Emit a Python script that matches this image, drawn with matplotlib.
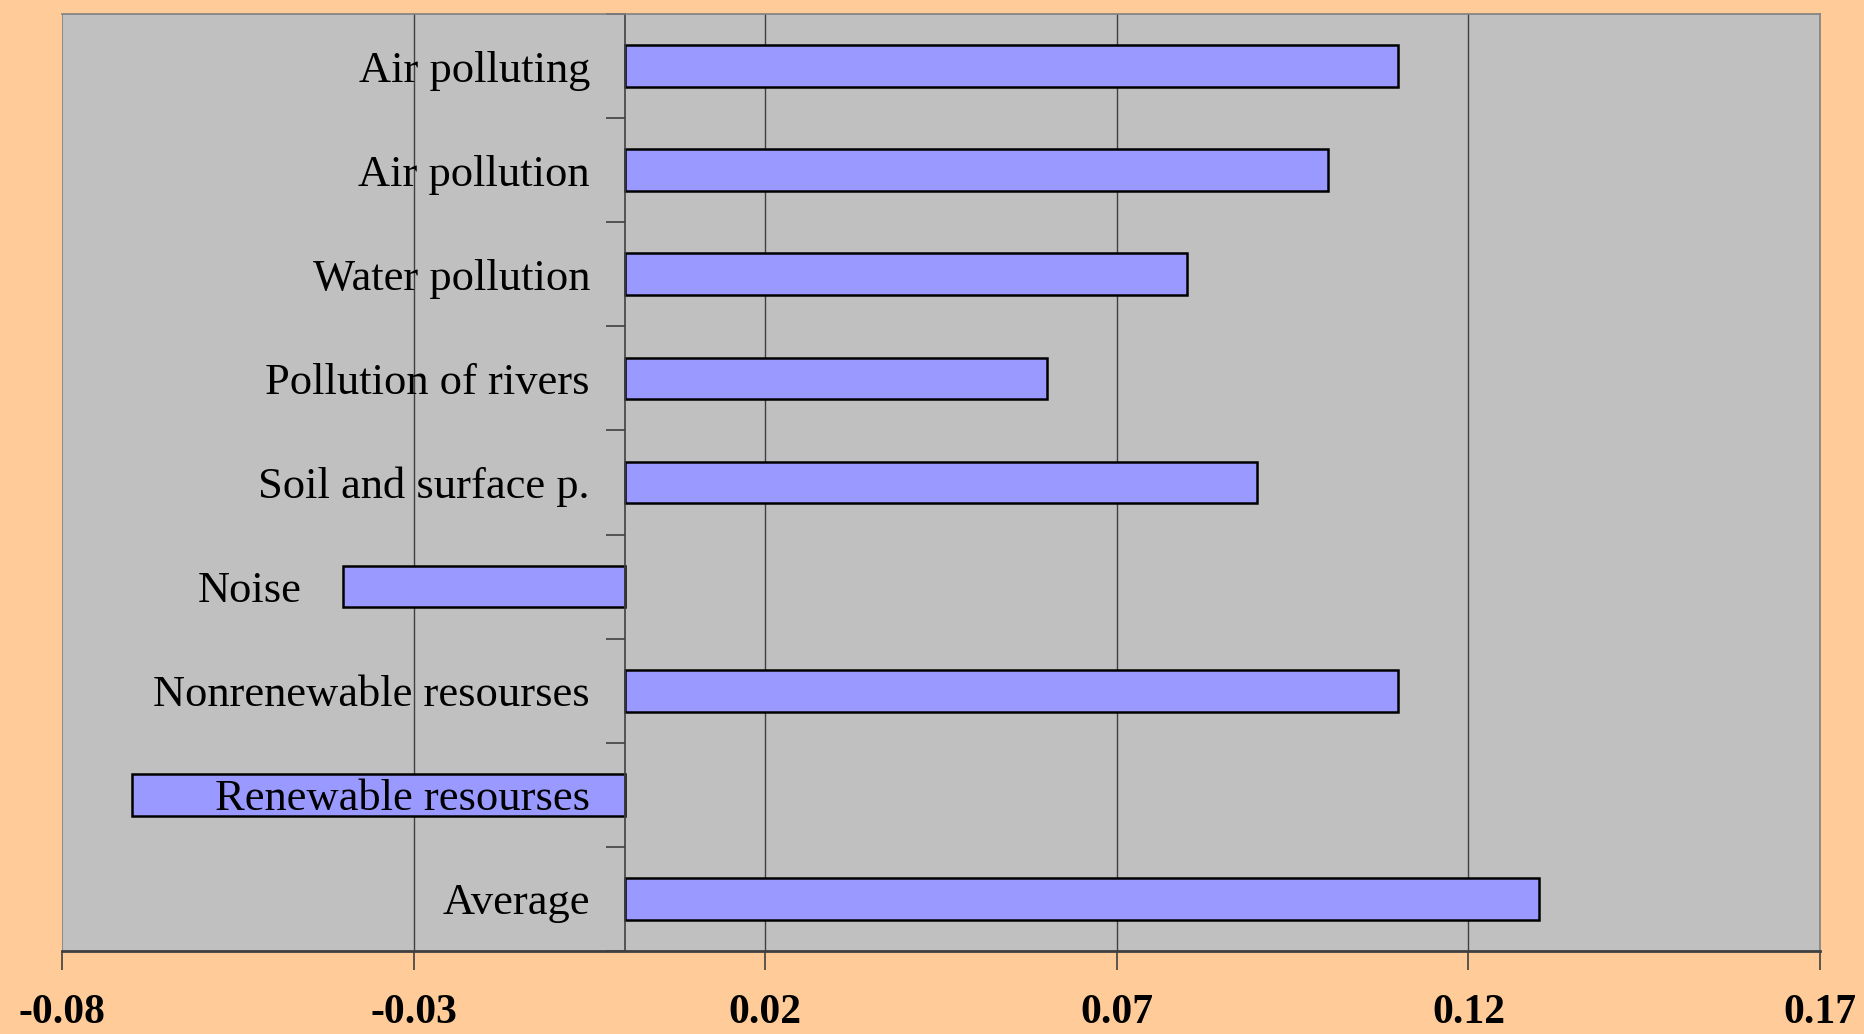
import numpy as np
import matplotlib.pyplot as plt
from matplotlib.ticker import FixedLocator

# data
categories = ['Air polluting', 'Air pollution', 'Water pollution', 'Pollution of rivers',
              'Soil and surface p.', 'Noise', 'Nonrenewable resourses',
              'Renewable resourses', 'Average']
values = [0.11, 0.10, 0.08, 0.06, 0.09, -0.04, 0.11, -0.07, 0.13]
xticks = [-0.08, -0.03, 0.02, 0.07, 0.12, 0.17]
xtick_labels = ['-0.08', '-0.03', '0.02', '0.07', '0.12', '0.17']
# labels that sit beside their bar end instead of at the axis
outside_label = ['Noise']

plt.rcParams['font.family'] = ['Liberation Serif', 'DejaVu Serif']

fig = plt.figure(figsize=(18.64, 10.34), dpi=100, facecolor='#FFCC99')
ax = fig.add_axes([0.0333, 0.0803, 0.9431, 0.9062])
ax.set_facecolor('#C0C0C0')

y = np.arange(len(categories))
ax.barh(y, values, height=0.4, color='#9999FF', edgecolor='black', linewidth=1.8, zorder=2)

ax.set_xlim(-0.08, 0.17)
ax.set_ylim(len(categories) - 0.5, -0.5)

# vertical gridlines behind the bars
for xt in xticks[1:-1]:
    ax.axvline(xt, color='#404040', linewidth=1.0, zorder=0.5)

# x axis
ax.set_xticks(xticks)
ax.set_xticklabels(xtick_labels, fontsize=30, fontweight='bold')
ax.tick_params(axis='x', direction='out', length=14, width=1.2, pad=17, color='#404040')

# y axis sits at zero
ax.spines['left'].set_position(('data', 0))
ax.spines['left'].set_color('#404040')
ax.spines['left'].set_linewidth(1.2)
ax.set_yticks(y)
ax.set_yticklabels([])
ax.yaxis.set_minor_locator(FixedLocator(np.arange(-0.5, len(categories), 1.0)))
ax.tick_params(axis='y', which='major', length=0)
ax.tick_params(axis='y', which='minor', direction='out', length=14, width=1.2, color='#404040')

# category labels, drawn over the bars
for i, (cat, v) in enumerate(zip(categories, values)):
    x0 = min(v, 0) if cat in outside_label else 0
    dx = -30 if cat in outside_label else -25
    ax.annotate(cat, (x0, i), xytext=(dx, 0), textcoords='offset points',
                ha='right', va='center_baseline', fontsize=32, zorder=4)

for s in ['top', 'right']:
    ax.spines[s].set_color('#808080')
    ax.spines[s].set_linewidth(1.2)
ax.spines['bottom'].set_color('#404040')
ax.spines['bottom'].set_linewidth(2)

# gray frame on the left side of the plot area
ax.axvline(-0.08, color='#808080', linewidth=1.2, zorder=0.5)

fig.savefig('out.png', dpi=100, facecolor=fig.get_facecolor())
